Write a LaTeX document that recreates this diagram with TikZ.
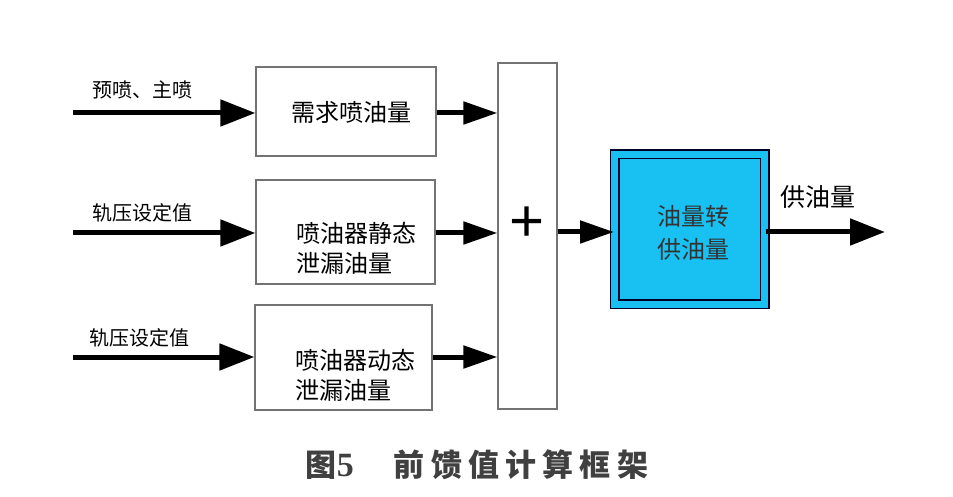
\documentclass[tikz,border=0pt]{standalone}
\usepackage{fontspec}
\setmainfont{Noto Sans CJK SC}
\newfontfamily\capfont[LetterSpace=20]{Noto Sans CJK SC}
\newfontfamily\numfont{Liberation Serif}
\newfontfamily\plusfont{Liberation Sans}
\usepackage{xcolor}
\usepackage{tikz}
\usetikzlibrary{arrows.meta, positioning}
\definecolor{convblue}{RGB}{25,192,242}

\begin{document}
\begin{tikzpicture}[
  x=0.5pt, y=-0.5pt,
  box/.style={rectangle, draw=black!55, line width=0.6pt, inner sep=0pt},
  txt/.style={inner sep=0pt, align=left, font=\fontsize{12}{15}\selectfont},
  lbl/.style={inner sep=0pt, font=\fontsize{10}{12}\selectfont},
  big/.style={-{Triangle[length=17.5pt, width=13pt]}, line width=2.5pt},
  small/.style={-{Triangle[length=17pt, width=11pt]}, line width=2.5pt}
]
  \useasboundingbox (0,0) rectangle (953,497);

  % blocks
  \node[box, minimum width=90pt, minimum height=44.5pt] (b1) at (346,111.5) {};
  \node[box, minimum width=89.5pt, minimum height=52pt] (b2) at (345.5,232) {};
  \node[box, minimum width=88.5pt, minimum height=52.5pt] (b3) at (343.5,357.5) {};
  \node[box, minimum width=29.5pt, minimum height=173pt] (sum) at (527.5,236) {};
  \node[rectangle, draw=black!85!blue, line width=0.75pt, double=convblue,
        double distance=3.5pt, fill=convblue, minimum size=75pt, inner sep=0pt]
        (conv) at (689.75,229.5) {};

  \node[txt] (t1) at (351,112) {需求喷油量};
  \node[txt] (t2) at (356,248) {喷油器静态\\泄漏油量};
  \node[txt] (t3) at (355,375) {喷油器动态\\泄漏油量};
  \node[txt, align=center, font=\fontsize{12}{16.5}\selectfont, text=black!80] (t4) at (693,233) {油量转\\供油量};
  \node[inner sep=0pt, font=\plusfont\fontsize{30}{30}\selectfont] (plus) at (527,224) {+};

  % inputs
  \coordinate (in1) at (73,113);
  \coordinate (in2) at (73,233);
  \coordinate (in3) at (73,357);
  \coordinate (out) at (885,232);
  \node[lbl] (l1) at (142,90) {预喷、主喷};
  \node[lbl] (l2) at (142,213) {轨压设定值};
  \node[lbl] (l3) at (139,338) {轨压设定值};
  \node[inner sep=0pt, font=\fontsize{12.5}{14}\selectfont] (l4) at (818,197) {供油量};

  \draw[big] (in1) -- (in1 -| b1.west);
  \draw[big] (in2) -- (in2 -| b2.west);
  \draw[big] (in3) -- (in3 -| b3.west);
  \draw[small] (b1.east |- in1) -- (in1 -| sum.west);
  \draw[small] (b2.east |- in2) -- (in2 -| sum.west);
  \draw[small] (b3.east |- in3) -- (in3 -| sum.west);
  \draw[small] (sum.east |- out) -- (out -| conv.west);
  \draw[big] (out -| conv.east) -- (out);

  % caption
  \node[inner sep=0pt, text=black!75, font=\fontsize{15.5}{17}\selectfont] (cap) at (477,465)
    {\capfont\bfseries 图{\numfont\bfseries\fontsize{17}{17}\selectfont 5}\hspace{20pt}前馈值计算框架};
\end{tikzpicture}
\end{document}
